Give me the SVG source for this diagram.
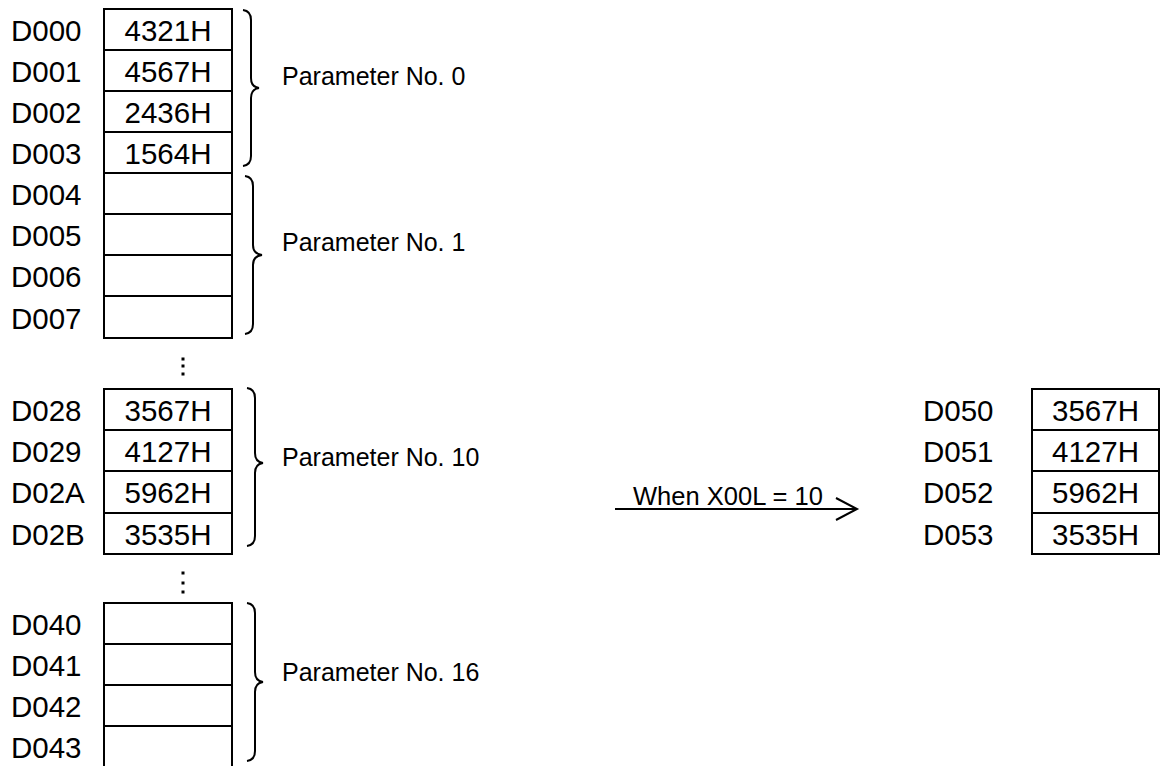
<svg xmlns="http://www.w3.org/2000/svg" width="1165" height="766" viewBox="0 0 1165 766">
<style>
.cell{fill:#fff;stroke:#000;stroke-width:2}
.lbl{font-family:"Liberation Sans",Arial,sans-serif;font-size:29.5px;fill:#000}
.val{font-family:"Liberation Sans",Arial,sans-serif;font-size:29.5px;fill:#000;text-anchor:middle}
.par{font-family:"Liberation Sans",Arial,sans-serif;font-size:25px;fill:#000}
.brace{fill:none;stroke:#000;stroke-width:2}
.conn{fill:none;stroke:#000;stroke-width:2}
</style>
<rect width="1165" height="766" fill="#fff"/>
<g id="group0">
<rect class="cell" x="104" y="9" width="128" height="41"/>
<rect class="cell" x="104" y="50" width="128" height="41"/>
<rect class="cell" x="104" y="91" width="128" height="41"/>
<rect class="cell" x="104" y="132" width="128" height="41"/>
<text class="lbl" x="11" y="41">D000</text>
<text class="lbl" x="11" y="82">D001</text>
<text class="lbl" x="11" y="123">D002</text>
<text class="lbl" x="11" y="164">D003</text>
<text class="val" x="168" y="41">4321H</text>
<text class="val" x="168" y="82">4567H</text>
<text class="val" x="168" y="123">2436H</text>
<text class="val" x="168" y="164">1564H</text>
<path class="brace" d="M243,10 Q251,11 251,20 L251,78 Q251,87 259,88 Q251,89 251,98 L251,156 Q251,165 243,166"/>
<text class="par" x="282" y="85">Parameter No. 0</text>
</g>
<g id="group1">
<rect class="cell" x="104" y="173" width="128" height="41"/>
<rect class="cell" x="104" y="214" width="128" height="41"/>
<rect class="cell" x="104" y="255" width="128" height="41"/>
<rect class="cell" x="104" y="296" width="128" height="42"/>
<text class="lbl" x="11" y="205">D004</text>
<text class="lbl" x="11" y="246">D005</text>
<text class="lbl" x="11" y="287">D006</text>
<text class="lbl" x="11" y="329">D007</text>
<path class="brace" d="M245,176 Q253,177 253,186 L253,245 Q253,254 262,255 Q253,256 253,265 L253,324 Q253,333 245,334"/>
<text class="par" x="282" y="251">Parameter No. 1</text>
</g>
<g id="dots1">
<rect x="181.5" y="357.5" width="3" height="3"/>
<rect x="181.5" y="364.5" width="3" height="3"/>
<rect x="181.5" y="372.5" width="3" height="3"/>
</g>
<g id="group10">
<rect class="cell" x="104" y="389" width="128" height="41"/>
<rect class="cell" x="104" y="430" width="128" height="41"/>
<rect class="cell" x="104" y="471" width="128" height="42"/>
<rect class="cell" x="104" y="513" width="128" height="41"/>
<text class="lbl" x="11" y="421">D028</text>
<text class="lbl" x="11" y="462">D029</text>
<text class="lbl" x="11" y="503">D02A</text>
<text class="lbl" x="11" y="545">D02B</text>
<text class="val" x="168" y="421">3567H</text>
<text class="val" x="168" y="462">4127H</text>
<text class="val" x="168" y="503">5962H</text>
<text class="val" x="168" y="545">3535H</text>
<path class="brace" d="M247,388 Q255,389 255,398 L255,453 Q255,462 263,463 Q255,464 255,473 L255,536 Q255,545 247,546"/>
<text class="par" x="282" y="466">Parameter No. 10</text>
</g>
<g id="dots2">
<rect x="181.5" y="571.5" width="3" height="3"/>
<rect x="181.5" y="581.5" width="3" height="3"/>
<rect x="181.5" y="590.5" width="3" height="3"/>
</g>
<g id="group16">
<rect class="cell" x="104" y="603" width="128" height="41"/>
<rect class="cell" x="104" y="644" width="128" height="41"/>
<rect class="cell" x="104" y="685" width="128" height="41"/>
<rect class="cell" x="104" y="726" width="128" height="42"/>
<text class="lbl" x="11" y="635">D040</text>
<text class="lbl" x="11" y="676">D041</text>
<text class="lbl" x="11" y="717">D042</text>
<text class="lbl" x="11" y="758">D043</text>
<path class="brace" d="M247,603 Q255,604 255,613 L255,672 Q255,681 263,682 Q255,683 255,692 L255,751 Q255,760 247,761"/>
<text class="par" x="282" y="681">Parameter No. 16</text>
</g>
<g id="result">
<rect class="cell" x="1032" y="389" width="127" height="41"/>
<rect class="cell" x="1032" y="430" width="127" height="41"/>
<rect class="cell" x="1032" y="471" width="127" height="42"/>
<rect class="cell" x="1032" y="513" width="127" height="41"/>
<text class="lbl" x="923" y="421">D050</text>
<text class="lbl" x="923" y="462">D051</text>
<text class="lbl" x="923" y="503">D052</text>
<text class="lbl" x="923" y="545">D053</text>
<text class="val" x="1095.5" y="421">3567H</text>
<text class="val" x="1095.5" y="462">4127H</text>
<text class="val" x="1095.5" y="503">5962H</text>
<text class="val" x="1095.5" y="545">3535H</text>
</g>
<g id="connectors">
<line class="conn" x1="615" y1="509" x2="857" y2="509"/>
<polyline class="conn" points="836,498 857,509 836,520"/>
<text class="par" x="633" y="505" font-size="24" textLength="190" lengthAdjust="spacingAndGlyphs">When X00L = 10</text>
</g>
</svg>
